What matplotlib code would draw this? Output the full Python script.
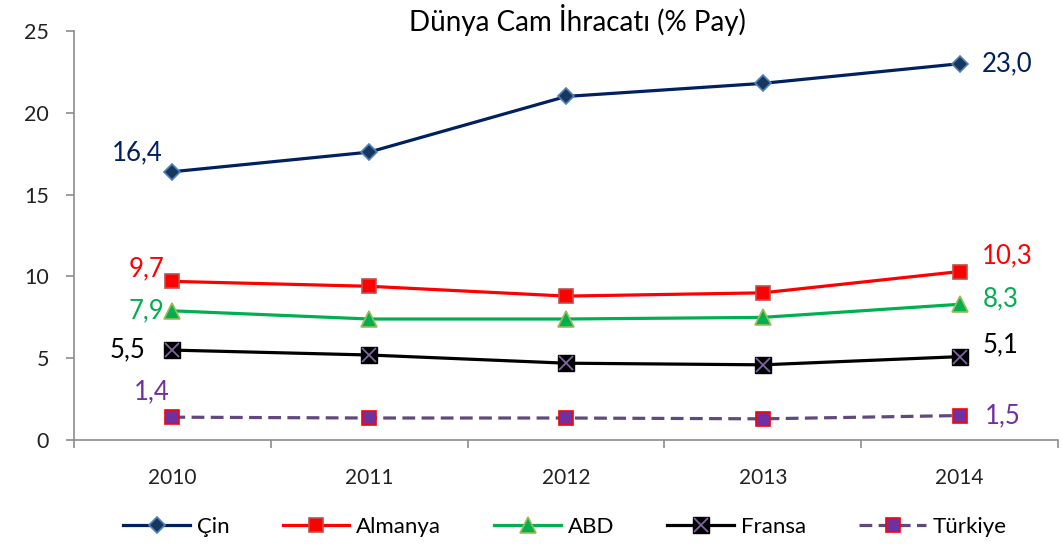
import matplotlib.pyplot as plt
from matplotlib.legend_handler import HandlerTuple

plt.rcParams['font.family'] = ['Lato', 'DejaVu Sans']

years = ['2010', '2011', '2012', '2013', '2014']
cin = [16.4, 17.6, 21.0, 21.8, 23.0]
almanya = [9.7, 9.4, 8.8, 9.0, 10.3]
abd = [7.9, 7.4, 7.4, 7.5, 8.3]
fransa = [5.5, 5.2, 4.7, 4.6, 5.1]
turkiye = [1.4, 1.35, 1.35, 1.3, 1.5]

fig = plt.figure(figsize=(10.62, 5.44), dpi=100)
ax = fig.add_axes([0.0697, 0.191, 0.9265, 0.752])
x = list(range(len(years)))

h_cin, = ax.plot(x, cin, color='#002060', lw=2.3, marker='D', ms=8,
                 mfc='#17375E', mec='#4F81BD', mew=1.2, label='Çin')
h_alm, = ax.plot(x, almanya, color='#FF0000', lw=2.3, marker='s', ms=10,
                 mfc='#FF0000', mec='#C0504D', mew=1.2, label='Almanya')
h_abd, = ax.plot(x, abd, color='#00B050', lw=2.3, marker='^', ms=11,
                 mfc='#00B050', mec='#9BBB59', mew=1.2, label='ABD')
h_fr, = ax.plot(x, fransa, color='black', lw=2.3, marker='s', ms=11,
                mfc='black', mec='black', label='Fransa')
h_frx, = ax.plot(x, fransa, ls='none', marker='x', ms=10, mec='#8064A2', mew=1.3)
h_tr, = ax.plot(x, turkiye, color='#604A7B', lw=2.3, ls=(0, (4, 2)), marker='s', ms=10,
                mfc='#7030A0', mec='#FF0000', mew=1.2, label='Türkiye')

# value labels at first and last year
first = [(cin, '#002060', -10, 19), (almanya, '#FF0000', -8, 13), (abd, '#00B050', -8, 0),
         (fransa, 'black', -27, 0), (turkiye, '#7030A0', -3, 25)]
last = [(cin, '#002060', 22, 0), (almanya, '#FF0000', 22, 16), (abd, '#00B050', 23, 5),
        (fransa, 'black', 23, 12), (turkiye, '#7030A0', 25, 0)]
for vals, c, dx, dy in first:
    ax.annotate(f'{vals[0]:.1f}'.replace('.', ','), (0, vals[0]), xytext=(dx, dy),
                textcoords='offset pixels', ha='right', va='center', color=c, fontsize=18.5)
for vals, c, dx, dy in last:
    ax.annotate(f'{vals[-1]:.1f}'.replace('.', ','), (4, vals[-1]), xytext=(dx, dy),
                textcoords='offset pixels', ha='left', va='center', color=c, fontsize=18.5)

ax.set_xlim(-0.5, 4.5)
ax.set_ylim(0, 25)
ax.set_yticks([0, 5, 10, 15, 20, 25])
ax.set_xticks(x)
ax.set_xticklabels(years)
ax.set_xticks([i - 0.5 for i in range(6)], minor=True)
ax.tick_params(axis='x', which='major', length=0, pad=20, labelsize=15, colors='#222222')
ax.tick_params(axis='x', which='minor', length=6, color='#8C8C8C', width=1.2)
ax.tick_params(axis='y', length=6, color='#8C8C8C', width=1.2, labelsize=15.5, pad=12,
               labelcolor='#222222')
for s in ['top', 'right']:
    ax.spines[s].set_visible(False)
for s in ['left', 'bottom']:
    ax.spines[s].set_color('#8C8C8C')
    ax.spines[s].set_linewidth(1.2)

fig.text(0.544, 0.963, 'Dünya Cam İhracatı (% Pay)', ha='center', va='center', fontsize=20)

fig.legend([h_cin, h_alm, h_abd, (h_fr, h_frx), h_tr],
           ['Çin', 'Almanya', 'ABD', 'Fransa', 'Türkiye'],
           handler_map={tuple: HandlerTuple(ndivide=1)},
           loc='center', bbox_to_anchor=(0.532, 0.032), ncol=5, frameon=False,
           fontsize=16, handlelength=3.0, columnspacing=2.4, handletextpad=0.3)

fig.savefig('out.png', dpi=100)
